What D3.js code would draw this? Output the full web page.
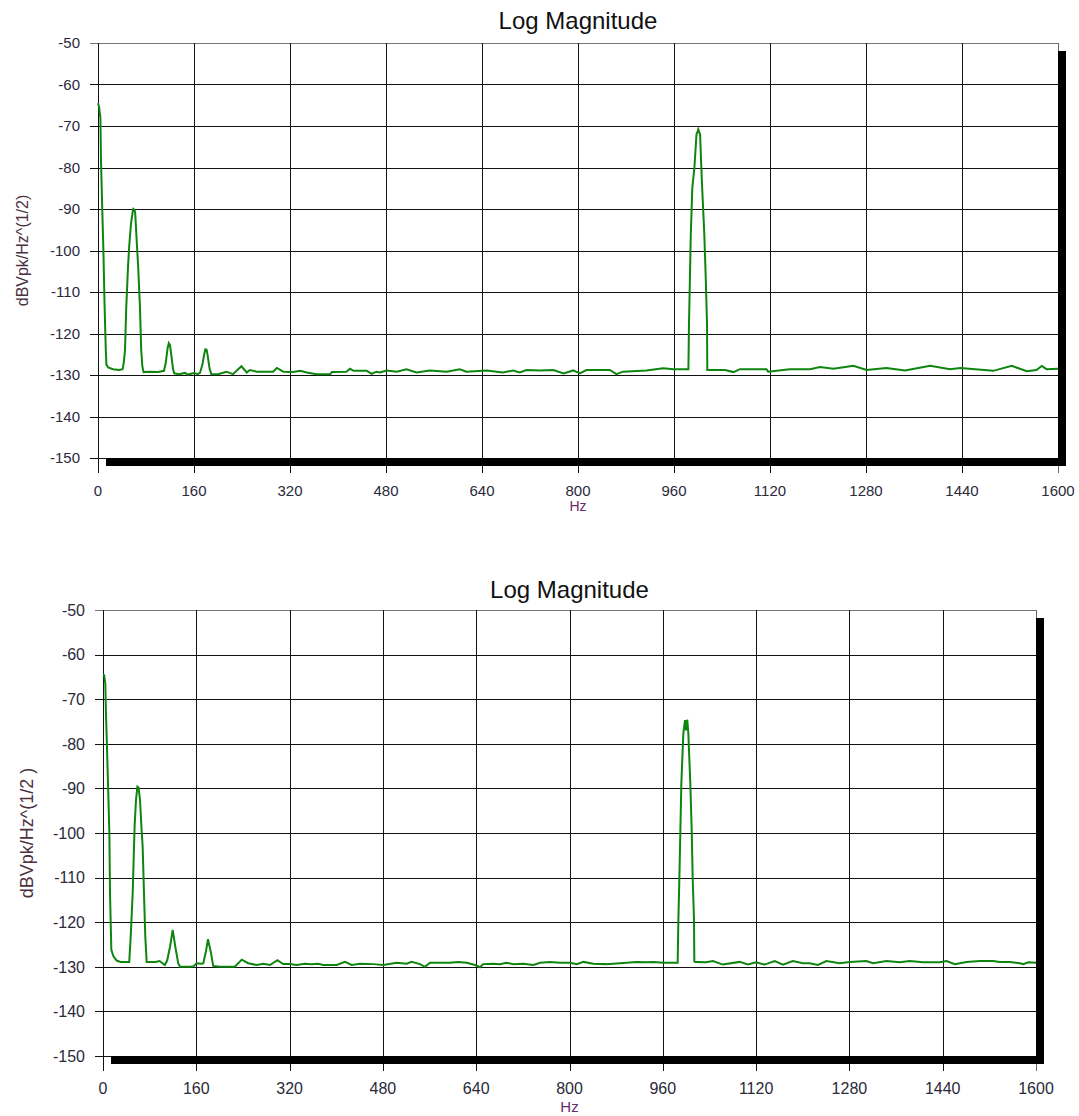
<!DOCTYPE html>
<html>
<head>
<meta charset="utf-8">
<script src="https://cdn.jsdelivr.net/npm/d3@7"></script>
<style>
  body { margin: 0; background: #fff; }
  svg text { font-family: "Liberation Sans", Arial, sans-serif; }
</style>
</head>
<body>
<div id="chart"></div>
<script>
// axis ticks (same for both panels)
var hzTicks = [0, 160, 320, 480, 640, 800, 960, 1120, 1280, 1440, 1600];
var dbTicks = [-50, -60, -70, -80, -90, -100, -110, -120, -130, -140, -150];
var chartTitle = "Log Magnitude";
var xTitle = "Hz";
var yTitleTop = "dBVpk/Hz^(1/2)";
var yTitleBottom = "dBVpk/Hz^(1/2 )";

// spectrum: [Hz, dB]
var topSpectrum = [
  [0,-64.5],[2,-65.5],[3,-67],[4,-68],[5,-78.5],[7,-89.5],[9,-100],[11,-113.5],[13,-124],[14,-127.5],
  [17,-128.2],[25,-128.6],[35,-128.8],[41,-128.6],[43,-127],[45,-124],[47,-114],[50,-104],[52,-99],
  [55,-93.5],[58,-90.5],[59,-90],[61,-90.3],[62,-91],[65,-99],[67,-104],[70,-114],[72,-124],[74,-128],
  [76,-129.3],[85,-129.2],[100,-129.3],[110,-129],[113,-127],[116,-123.5],[118,-122.3],[120,-122.8],
  [122,-125],[125,-128.5],[127,-129.6],[135,-129.8],[145,-129.5],[150,-129.9],[160,-129.5],[166,-129.8],
  [170,-129.5],[174,-127.5],[177,-125],[179,-123.8],[181,-123.9],[183,-125.5],[186,-128.5],[189,-129.8],
  [200,-129.8],[214,-129.2],[225,-129.8],[239,-127.9],[248,-129.4],[253,-128.8],[264,-129.2],[292,-129.2],
  [298,-128.3],[309,-129.2],[325,-129.3],[337,-129],[348,-129.4],[364,-129.8],[387,-129.8],[390,-129.3],
  [414,-129.2],[420,-128.5],[426,-129],[448,-129],[456,-129.7],[464,-129.2],[470,-129.4],[481,-128.9],
  [498,-129.2],[514,-128.6],[531,-129.4],[553,-128.9],[581,-129.2],[603,-128.6],[614,-129.2],[648,-128.9],
  [675,-129.4],[692,-128.9],[703,-129.4],[714,-128.8],[737,-128.9],[759,-128.8],[776,-129.6],[792,-128.9],
  [803,-129.6],[814,-128.8],[853,-128.8],[864,-129.8],[875,-129.2],[914,-128.9],[942,-128.4],[959,-128.6],
  [981,-128.6],[984,-128.6],[985,-117.5],[986.5,-107],[988,-96],[990.5,-85],[994,-80],[997.5,-72],
  [999,-71.5],[1000.5,-70.8],[1002,-71.5],[1003.5,-72],[1005,-78],[1007,-85],[1010.5,-96],[1013,-107],
  [1015,-117.5],[1015.5,-128.8],[1045,-128.8],[1059,-129.3],[1070,-128.6],[1114,-128.6],[1117,-129.2],
  [1153,-128.6],[1187,-128.6],[1203,-128.1],[1226,-128.5],[1259,-127.8],[1281,-128.8],[1314,-128.3],
  [1345,-128.9],[1387,-127.8],[1420,-128.6],[1437,-128.3],[1492,-129],[1523,-127.8],[1548,-129.1],
  [1564,-128.8],[1573,-127.8],[1581,-128.6],[1600,-128.5]
];

// spectrum: [Hz, dB]
var bottomSpectrum = [
  [0,-64.5],[2,-64.6],[4,-66.6],[5,-72.8],[6.3,-78.4],[8.6,-88.9],[10.9,-100],[12,-113.5],[14.3,-126.2],
  [17.7,-127.6],[23.4,-128.6],[30,-128.9],[45,-128.9],[47.5,-123.2],[50.9,-113.5],[53.2,-103],[54.3,-98.2],
  [56.6,-92.6],[59,-89.6],[61,-89.8],[63.5,-92.6],[65.7,-98.2],[68,-103],[70.3,-113.5],[72.5,-123.2],
  [74.9,-128.9],[90,-128.9],[97,-128.7],[106,-129.6],[110,-128.6],[115,-125.5],[119.5,-121.7],[124,-125.5],
  [129,-129.2],[132,-130],[150,-130],[155,-129.9],[160.6,-129.2],[170,-129.3],[172,-129.2],[176.6,-126.5],
  [180,-123.8],[184.6,-126.5],[189,-129.8],[200.6,-130],[226,-130],[238,-128.4],[249,-129.2],[263.6,-129.6],
  [275,-129.3],[286.4,-129.6],[299,-128.5],[309,-129.4],[320.7,-129.4],[332,-129.6],[346,-129.3],[358,-129.4],
  [369,-129.3],[377.8,-129.6],[400.8,-129.6],[415,-128.9],[426.5,-129.6],[440.7,-129.3],[463.6,-129.4],
  [480.7,-129.6],[503.6,-129.1],[520.8,-129.3],[529,-128.9],[543.6,-129.4],[552,-130],[560.8,-129.1],
  [595,-129.1],[609,-128.9],[623.7,-129.1],[638,-129.6],[646.5,-130.1],[652,-129.4],[669.7,-129.3],
  [680.8,-129.4],[692,-129.1],[703.7,-129.4],[720.8,-129.3],[738,-129.6],[749.5,-129.1],[766.5,-128.9],
  [783.8,-129.1],[801,-129.1],[812.5,-129.4],[824,-128.9],[840.8,-129.3],[863,-129.4],[875,-129.3],
  [898,-129.1],[915,-128.9],[932.4,-129],[944,-128.9],[961,-129.1],[978,-129.1],[985,-129.1],
  [985.5,-129.1],[986.7,-119.5],[988.4,-110.2],[990.1,-99.7],[991.8,-88.9],[993.5,-83.3],[995.2,-77.7],
  [998.1,-74.7],[999.8,-77],[1002,-74.6],[1003.8,-77.7],[1005.5,-83.3],[1007.2,-88.9],[1009.6,-99.7],
  [1011.3,-110.2],[1013.5,-119.5],[1014.1,-129],[1014.5,-128.9],[1034,-129],[1046,-128.7],[1063,-129.5],
  [1091.7,-128.9],[1106,-129.5],[1120,-129],[1134.6,-129.5],[1152,-128.7],[1166,-129.5],[1183,-128.7],
  [1200.4,-129.2],[1211.9,-129.2],[1226,-129.6],[1240.5,-128.7],[1263.4,-129.2],[1280.5,-128.9],
  [1309,-128.7],[1320.6,-129.2],[1343.5,-128.7],[1366.4,-129],[1383.6,-128.7],[1406.5,-129],[1435,-129],
  [1446.5,-128.7],[1460.9,-129.4],[1480.9,-128.9],[1503.8,-128.7],[1526.7,-128.7],[1538,-128.9],
  [1555.3,-128.9],[1572.5,-129.2],[1578.2,-129.4],[1586.8,-129],[1600,-129.1]
];

var svg = d3.select("#chart").append("svg")
    .attr("width", 1079)
    .attr("height", 1116);

//draws one "Log Magnitude" panel
function drawPanel(box, data, yTitle) {
    var x = d3.scaleLinear().domain([0, 1600]).range([0, box.w]);
    var y = d3.scaleLinear().domain([-150, -50]).range([box.h, 0]);

    var g = svg.append("g")
        .attr("transform", "translate(" + box.left + "," + box.top + ")");

    // grid (horizontal lines stick out on the left as ticks)
    g.selectAll(".hgrid")
        .data(dbTicks)
        .enter().append("line")
        .attr("x1", -8).attr("x2", box.w)
        .attr("y1", d => Math.round(y(d)) + 0.5)
        .attr("y2", d => Math.round(y(d)) + 0.5)
        .attr("stroke", (d, i) => i === 0 ? "#777" : "#111")
        .attr("stroke-width", 1);

    g.selectAll(".vgrid")
        .data(hzTicks)
        .enter().append("line")
        .attr("y1", 0).attr("y2", box.h + 15)
        .attr("x1", d => Math.round(x(d)) + 0.5)
        .attr("x2", d => Math.round(x(d)) + 0.5)
        .attr("stroke", (d, i) => i === hzTicks.length - 1 ? "#666" : "#111")
        .attr("stroke-width", 1);

    // drop shadow on the right and bottom, over the grid
    var sh = 8;
    g.append("rect")
        .attr("x", sh).attr("y", box.h)
        .attr("width", box.w).attr("height", sh)
        .attr("fill", "#000");
    g.append("rect")
        .attr("x", box.w).attr("y", sh)
        .attr("width", sh).attr("height", box.h)
        .attr("fill", "#000");

    // tick labels
    g.selectAll(".ylab")
        .data(dbTicks)
        .enter().append("text")
        .attr("x", -18)
        .attr("y", d => y(d))
        .attr("dy", "0.36em")
        .attr("text-anchor", "end")
        .attr("font-size", box.fs + "px")
        .attr("fill", "#2a2a3a")
        .text(d => d);

    g.selectAll(".xlab")
        .data(hzTicks)
        .enter().append("text")
        .attr("x", d => x(d))
        .attr("y", box.h + 38)
        .attr("text-anchor", "middle")
        .attr("font-size", box.fs + "px")
        .attr("fill", "#2a2a3a")
        .text(d => d);

    // the spectrum line
    var line = d3.line()
        .x(d => x(d[0]))
        .y(d => y(d[1]));

    g.append("path")
        .datum(data)
        .attr("d", line)
        .attr("fill", "none")
        .attr("stroke", "#0e850e")
        .attr("stroke-width", 2)
        .attr("stroke-linejoin", "miter");

    // titles
    svg.append("text")
        .attr("x", box.left + box.w / 2)
        .attr("y", box.top - box.titleGap)
        .attr("text-anchor", "middle")
        .attr("font-size", box.tfs + "px")
        .attr("fill", "#111")
        .text(chartTitle);

    g.append("text")
        .attr("x", box.w / 2)
        .attr("y", box.h + box.hzGap)
        .attr("text-anchor", "middle")
        .attr("font-size", (box.fs - 1) + "px")
        .attr("fill", "#6a2c6a")
        .text(xTitle);

    g.append("text")
        .attr("transform", "translate(" + (box.ytx - box.left) + "," + (box.h / 2) + ") rotate(-90)")
        .attr("text-anchor", "middle")
        .attr("font-size", box.yfs + "px")
        .attr("fill", "#4a3040")
        .text(yTitle);
}

drawPanel({ left: 98, top: 43, w: 960, h: 415, fs: 15, tfs: 24, yfs: 16, titleGap: 14, hzGap: 53, ytx: 28 }, topSpectrum, yTitleTop);
drawPanel({ left: 103, top: 610, w: 933, h: 446, fs: 16, tfs: 24, yfs: 18, titleGap: 12, hzGap: 56, ytx: 33 }, bottomSpectrum, yTitleBottom);
</script>
</body>
</html>
